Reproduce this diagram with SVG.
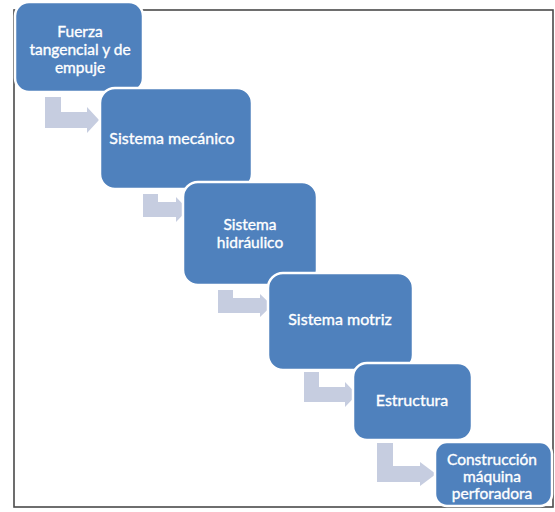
<svg xmlns="http://www.w3.org/2000/svg" width="555" height="512" viewBox="0 0 555 512">
  <style>
    .frame { fill: none; stroke: #4a4a4a; stroke-width: 1.6; }
    .box { fill: #4f81bd; stroke: #ffffff; stroke-width: 2.5; }
    .lbl { fill: #ffffff; stroke: #ffffff; stroke-width: 0.35; font-family: Lato, "Open Sans", "DejaVu Sans", sans-serif; font-size: 16px; text-anchor: middle; }
    .sm { font-size: 15.5px; }
    .arrow { fill: #c6cde0; stroke: none; }
  </style>
  <rect width="555" height="512" fill="#ffffff"/>
  <!-- outer frame -->
  <rect class="frame" x="14" y="10" width="539" height="497"/>

  <!-- bent step connectors -->
  <g id="connectors">
    <path class="arrow" d="M45,97 H61 V112 H87 V107 L99,120 L87,133 V128 H45 Z"/>
    <path class="arrow" d="M143,194 H158 V202 H176 V197 L188,209.5 L176,222 V217 H143 Z"/>
    <path class="arrow" d="M218,290 H233 V298 H260 V294 L272,305.5 L260,317 V313 H218 Z"/>
    <path class="arrow" d="M304,372 H319 V387 H345 V382 L357,394.5 L345,407 V402 H304 Z"/>
    <path class="arrow" d="M377,443 H393 V466 H420 V462 L436,474 L420,486 V482 H377 Z"/>
  </g>

  <g id="n1">
    <rect class="box" x="15" y="2" width="128" height="90" rx="14"/>
    <text class="lbl sm" x="80" y="37">Fuerza</text>
    <text class="lbl sm" x="80" y="55">tangencial y de</text>
    <text class="lbl sm" x="80" y="73">empuje</text>
  </g>
  <g id="n2">
    <rect class="box" x="100" y="88" width="152" height="101" rx="15"/>
    <text class="lbl" x="172" y="144">Sistema mecánico</text>
  </g>
  <g id="n3">
    <rect class="box" x="183" y="182" width="134" height="103" rx="15"/>
    <text class="lbl sm" x="250" y="230">Sistema</text>
    <text class="lbl sm" x="250" y="248">hidráulico</text>
  </g>
  <g id="n4">
    <rect class="box" x="268" y="273" width="145" height="97" rx="15"/>
    <text class="lbl" x="340" y="325">Sistema motriz</text>
  </g>
  <g id="n5">
    <rect class="box" x="353" y="363" width="119" height="77" rx="14"/>
    <text class="lbl" x="412" y="406">Estructura</text>
  </g>
  <g id="n6">
    <rect class="box" x="435" y="442" width="117" height="64" rx="12"/>
    <text class="lbl sm" x="492" y="465">Construcción</text>
    <text class="lbl sm" x="492" y="482">máquina</text>
    <text class="lbl sm" x="492" y="499">perforadora</text>
  </g>
</svg>
